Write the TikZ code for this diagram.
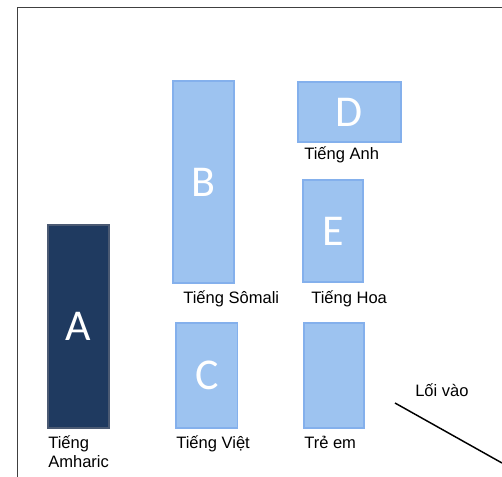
\documentclass[tikz,border=0pt]{standalone}
\usepackage{fontspec}
\setmainfont{Liberation Sans}
\newfontfamily\boxfont{Carlito}
\usepackage{tikz}
\usetikzlibrary{positioning}
\definecolor{navy}{RGB}{31,58,96}
\definecolor{navyedge}{RGB}{75,90,115}
\definecolor{sky}{RGB}{157,195,240}
\definecolor{skyedge}{RGB}{132,176,236}

\begin{document}
\begin{tikzpicture}[x=0.75pt,y=-0.75pt]
    \useasboundingbox (0,0) rectangle (502,477);
    %Frame
    \draw[line width=1.2pt,black!75] (17.5,477) -- (17.5,7.5) -- (502,7.5);
    \begin{scope}[every node/.style={shape=rectangle,draw=skyedge,fill=sky,line width=0.9pt,inner sep=0pt,text=white,font=\boxfont\fontsize{33}{33}\selectfont}]
        \node(A)[draw=navyedge,fill=navy,minimum width=45.75pt,minimum height=152.25pt] at (78.5,326.5) {A};
        \node(B)[minimum width=45.75pt,minimum height=151.5pt] at (203.5,182) {B};
        \node(C)[minimum width=46pt,minimum height=78.75pt] at (206.75,375.5) {C};
        \node(D)[minimum width=77.25pt,minimum height=45pt] at (349.5,112) {D};
        \node(E)[minimum width=45pt,minimum height=76.5pt] at (333,231) {E};
        \node(kids)[minimum width=45pt,minimum height=78.75pt] at (334,375.5) {};
    \end{scope}
    \begin{scope}[every node/.style={inner sep=0pt,anchor=base west,font=\fontsize{12.4}{14.25}\selectfont}]
        \node(amharic)[align=left] at (48,467) {Tiếng\\Amharic};
        \node(somali) at (183,303) {Tiếng Sômali};
        \node(viet) at (176,448) {Tiếng Việt};
        \node(english) at (304,160) {Tiếng Anh};
        \node(chinese) at (311,303) {Tiếng Hoa};
        \node(children) at (304,448) {Trẻ em};
        \node(entrance) at (415,396) {Lối vào};
    \end{scope}
    \coordinate(door1) at (395,403);
    \coordinate(door2) at (502,463);
    %Lines
    \draw[line width=1.1pt] (door1) -- (door2);
\end{tikzpicture}
\end{document}
